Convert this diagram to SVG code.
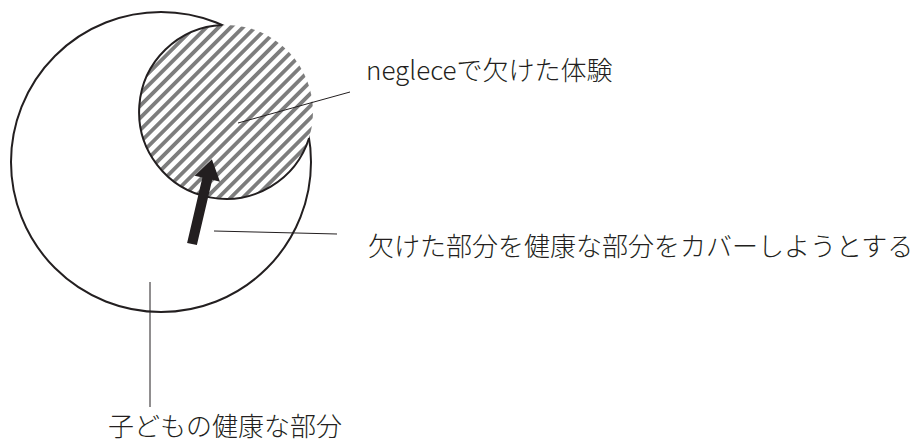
<svg xmlns="http://www.w3.org/2000/svg" width="920" height="442" viewBox="0 0 920 442">
  <style>
    .outline { fill: none; stroke: #231f20; stroke-width: 2; }
    .leader { fill: none; stroke: #231f20; stroke-width: 1; }
    .label { font-family: "Noto Sans CJK JP", "Noto Sans", sans-serif; font-size: 26px; font-weight: 300; fill: #231f20; }
  </style>
  <defs>
    <pattern id="hatch" patternUnits="userSpaceOnUse" width="8.6" height="8.6" patternTransform="rotate(45)">
      <rect x="0" y="0" width="8.6" height="8.6" fill="#ffffff"/>
      <rect x="0" y="0" width="3.8" height="8.6" fill="#7d7d7d"/>
    </pattern>
  </defs>
  <rect x="0" y="0" width="920" height="442" fill="#ffffff"/>

  <g id="healthy-part">
    <circle cx="161" cy="162" r="150" fill="#ffffff" class="outline"/>
  </g>

  <g id="missing-experience">
    <circle cx="226" cy="112" r="87" fill="url(#hatch)"/>
    <path class="outline" d="M 222.3 25 A 87 87 0 1 0 309.1 138"/>
  </g>

  <g id="cover-arrow">
    <polygon fill="#231f20" points="187.1,242.9 202.4,177.6 194.6,175.7 211.9,159.3 220,181.7 212.2,179.8 196.9,245.1"/>
  </g>

  <g id="connectors">
    <line class="leader" x1="238" y1="123" x2="350" y2="92"/>
    <line class="leader" x1="214" y1="231" x2="337" y2="234"/>
    <line class="leader" x1="150" y1="282" x2="150" y2="407"/>
  </g>

  <g id="label-neglect">
    <text class="label" x="366" y="80">negleceで欠けた体験</text>
  </g>
  <g id="label-cover">
    <text class="label" x="368" y="256">欠けた部分を健康な部分をカバーしようとする</text>
  </g>
  <g id="label-healthy">
    <text class="label" x="108" y="436">子どもの健康な部分</text>
  </g>
</svg>
